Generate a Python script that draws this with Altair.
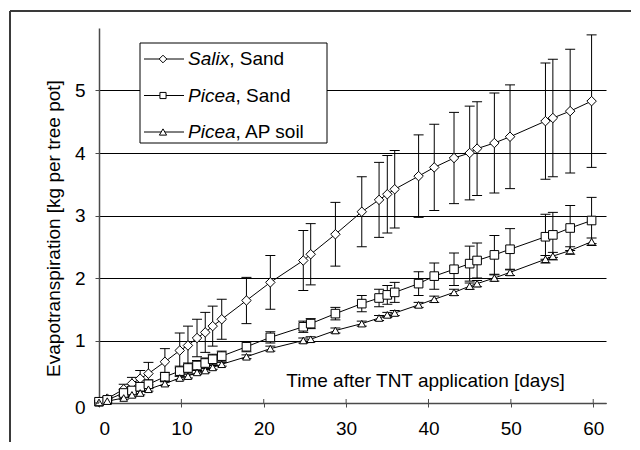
import altair as alt
import pandas as pd

# ---------------- data ----------------
days = [0, 1, 3, 4, 5, 6, 8, 9.8, 10.8, 11.9, 12.9, 13.8, 14.9, 17.9, 20.8,
        24.8, 25.7, 28.7, 31.9, 34, 35, 35.9, 38.8, 40.7, 43.1, 45, 45.9,
        48, 49.9, 54.2, 55.1, 57.2, 59.8]

salix_sand = [0.02, 0.07, 0.22, 0.31, 0.39, 0.47, 0.66, 0.84, 0.92, 1.04, 1.13,
              1.23, 1.34, 1.64, 1.93, 2.28, 2.38, 2.70, 3.06, 3.25, 3.34, 3.42,
              3.63, 3.77, 3.92, 4.00, 4.07, 4.16, 4.26, 4.51, 4.56, 4.67, 4.83]
salix_sand_err = [0.02, 0.03, 0.08, 0.10, 0.13, 0.18, 0.21, 0.28, 0.31, 0.30, 0.32,
                  0.32, 0.32, 0.37, 0.43, 0.48, 0.49, 0.51, 0.56, 0.60, 0.62, 0.62,
                  0.66, 0.69, 0.73, 0.75, 0.75, 0.80, 0.83, 0.93, 0.94, 0.99, 1.06]

picea_sand = [0.02, 0.05, 0.16, 0.20, 0.26, 0.30, 0.42, 0.51, 0.56, 0.60, 0.64,
              0.70, 0.75, 0.90, 1.05, 1.22, 1.27, 1.43, 1.59, 1.68, 1.73, 1.77,
              1.91, 2.03, 2.14, 2.23, 2.28, 2.37, 2.46, 2.66, 2.69, 2.80, 2.92]
picea_sand_err = [0.01, 0.02, 0.05, 0.06, 0.07, 0.07, 0.07, 0.08, 0.08, 0.08, 0.08,
                  0.08, 0.08, 0.08, 0.09, 0.09, 0.08, 0.10, 0.13, 0.14, 0.15, 0.16,
                  0.19, 0.21, 0.26, 0.28, 0.28, 0.31, 0.33, 0.36, 0.36, 0.36, 0.37]

picea_ap = [0.01, 0.03, 0.08, 0.13, 0.16, 0.22, 0.31, 0.40, 0.43, 0.49, 0.52,
            0.57, 0.62, 0.74, 0.87, 1.00, 1.02, 1.16, 1.27, 1.36, 1.41, 1.44,
            1.57, 1.66, 1.77, 1.87, 1.91, 2.00, 2.09, 2.30, 2.35, 2.44, 2.58]
picea_ap_err = [0.01, 0.02, 0.02, 0.03, 0.03, 0.03, 0.03, 0.03, 0.03, 0.03, 0.03,
                0.03, 0.03, 0.03, 0.04, 0.04, 0.04, 0.04, 0.04, 0.04, 0.04, 0.04,
                0.04, 0.05, 0.05, 0.05, 0.05, 0.05, 0.05, 0.06, 0.06, 0.06, 0.06]

series_names = ["Salix, Sand", "Picea, Sand", "Picea, AP soil"]
series_shapes = ["diamond", "square", "triangle-up"]
x_ticks = [0, 10, 20, 30, 40, 50, 60]
y_ticks = [0, 1, 2, 3, 4, 5]

rows = []
for name, vals, errs in zip(series_names,
                            [salix_sand, picea_sand, picea_ap],
                            [salix_sand_err, picea_sand_err, picea_ap_err]):
    for d, v, e in zip(days, vals, errs):
        rows.append({"series": name, "day": d, "value": v,
                     "lo": v - e, "hi": v + e})
df = pd.DataFrame(rows)

# ---------------- styling ----------------
FONT = "Liberation Sans"
FS = 19
W, H = 507, 375
AXIS_COL = "#4a4a4a"
marker_sizes = [90, 58, 80]

x_scale = alt.Scale(domain=[0, 61.55], nice=False, zero=False)
y_scale = alt.Scale(domain=[0, 6], nice=False)
shape_scale = alt.Scale(domain=series_names, range=series_shapes)
size_scale = alt.Scale(domain=series_names, range=marker_sizes)

x_axis = alt.Axis(values=x_ticks, title="Time after TNT application [days]",
                  grid=False, tickSize=4, tickColor=AXIS_COL, domainColor=AXIS_COL,
                  domainWidth=1.5, labelPadding=12, labelFont=FONT, labelFontSize=FS,
                  labelColor="black", titleFont=FONT, titleFontSize=FS,
                  titleFontWeight="normal", titleColor="black",
                  titleX=326, titleY=-23, titleAlign="center",
                  titleBaseline="middle")
y_axis = alt.Axis(values=y_ticks, title="Evapotranspiration [kg per tree pot]",
                  grid=True, gridColor="black", gridWidth=1,
                  tickSize=4, tickColor=AXIS_COL, domainColor=AXIS_COL,
                  domainWidth=1.5, labelPadding=10, labelFont=FONT, labelFontSize=FS,
                  labelColor="black", titleFont=FONT, titleFontSize=FS,
                  titleFontWeight="normal", titleColor="black",
                  labelOffset={"condition": {"test": "datum.value == 0", "value": 4},
                               "value": 0},
                  titleX=-46, titleY=200, titleAngle=-90, titleAlign="center",
                  titleBaseline="middle")

base = alt.Chart(df)
X = alt.X("day:Q", scale=x_scale, axis=x_axis)


def Yf(field):
    return alt.Y(field, type="quantitative", scale=y_scale, axis=y_axis)


err_rule = base.mark_rule(color="black", strokeWidth=1).encode(
    x=X, y=Yf("lo"), y2="hi:Q")
cap_hi = base.mark_tick(orient="horizontal", size=10, thickness=1, color="black",
                        opacity=1).encode(x=X, y=Yf("hi"))
cap_lo = base.mark_tick(orient="horizontal", size=10, thickness=1, color="black",
                        opacity=1).encode(x=X, y=Yf("lo"))
lines = base.mark_line(color="black", strokeWidth=1).encode(
    x=X, y=Yf("value"), detail="series:N")
points = base.mark_point(filled=True, fill="white", stroke="black", strokeWidth=1,
                         opacity=1, fillOpacity=1).encode(
    x=X, y=Yf("value"),
    shape=alt.Shape("series:N", scale=shape_scale, legend=None),
    size=alt.Size("series:N", scale=size_scale, legend=None))

# x-axis ticks crossing the axis (upper half) and short axis stub left of 0
tick_df = pd.DataFrame({"day": x_ticks})
up_ticks = alt.Chart(tick_df).mark_rule(color=AXIS_COL, strokeWidth=1).encode(
    x=X, y=alt.value(H - 4), y2=alt.value(H))
one = pd.DataFrame({"k": [0]})
axis_stub = alt.Chart(one).mark_rule(color=AXIS_COL, strokeWidth=1.5).encode(
    x=alt.value(-4), x2=alt.value(0), y=alt.value(H))

# ---------------- manual legend (italic genus names) ----------------
ital_w = {"S": .667, "a": .556, "l": .222, "i": .222, "x": .5,
          "P": .667, "c": .5, "e": .556}
legend_layers = [
    alt.Chart(one).mark_rect(fill="white", stroke="black", strokeWidth=1).encode(
        x=alt.value(41), x2=alt.value(228), y=alt.value(15), y2=alt.value(115))
]
for i, (name, shp, sz) in enumerate(zip(series_names, series_shapes, marker_sizes)):
    yc = 31 + i * 36.5
    genus, rest = name.split(",", 1)
    rest = "," + rest
    gw = sum(ital_w.get(c, .55) for c in genus) * FS
    legend_layers += [
        alt.Chart(one).mark_rule(color="black", strokeWidth=1).encode(
            x=alt.value(45), x2=alt.value(85), y=alt.value(yc)),
        alt.Chart(one).mark_point(shape=shp, filled=True, fill="white", stroke="black",
                                  strokeWidth=1, size=sz * 0.65, opacity=1).encode(
            x=alt.value(64), y=alt.value(yc)),
        alt.Chart(one).mark_text(align="left", baseline="middle", font=FONT,
                                 fontSize=FS, fontStyle="italic", color="black").encode(
            x=alt.value(89), y=alt.value(yc), text=alt.value(genus)),
        alt.Chart(one).mark_text(align="left", baseline="middle", font=FONT,
                                 fontSize=FS, color="black").encode(
            x=alt.value(89 + gw), y=alt.value(yc), text=alt.value(rest)),
    ]

# ---------------- outer frame (cropped figure border) ----------------
frame = [
    alt.Chart(one).mark_rule(color="#3a3a3a", strokeWidth=2).encode(
        x=alt.value(-89), x2=alt.value(560), y=alt.value(-17)),
    alt.Chart(one).mark_rule(color="#3a3a3a", strokeWidth=2).encode(
        x=alt.value(-89), y=alt.value(-17), y2=alt.value(440)),
]

chart = alt.layer(
    lines, err_rule, cap_hi, cap_lo, points, up_ticks, axis_stub,
    *legend_layers, *frame
).properties(
    width=W, height=H,
    autosize=alt.AutoSizeParams(type="none"),
    padding={"left": 91, "top": 20, "right": 25, "bottom": 39},
).configure_view(stroke=None)

chart.save("out.html", embed_options={"renderer": "svg", "actions": False})
